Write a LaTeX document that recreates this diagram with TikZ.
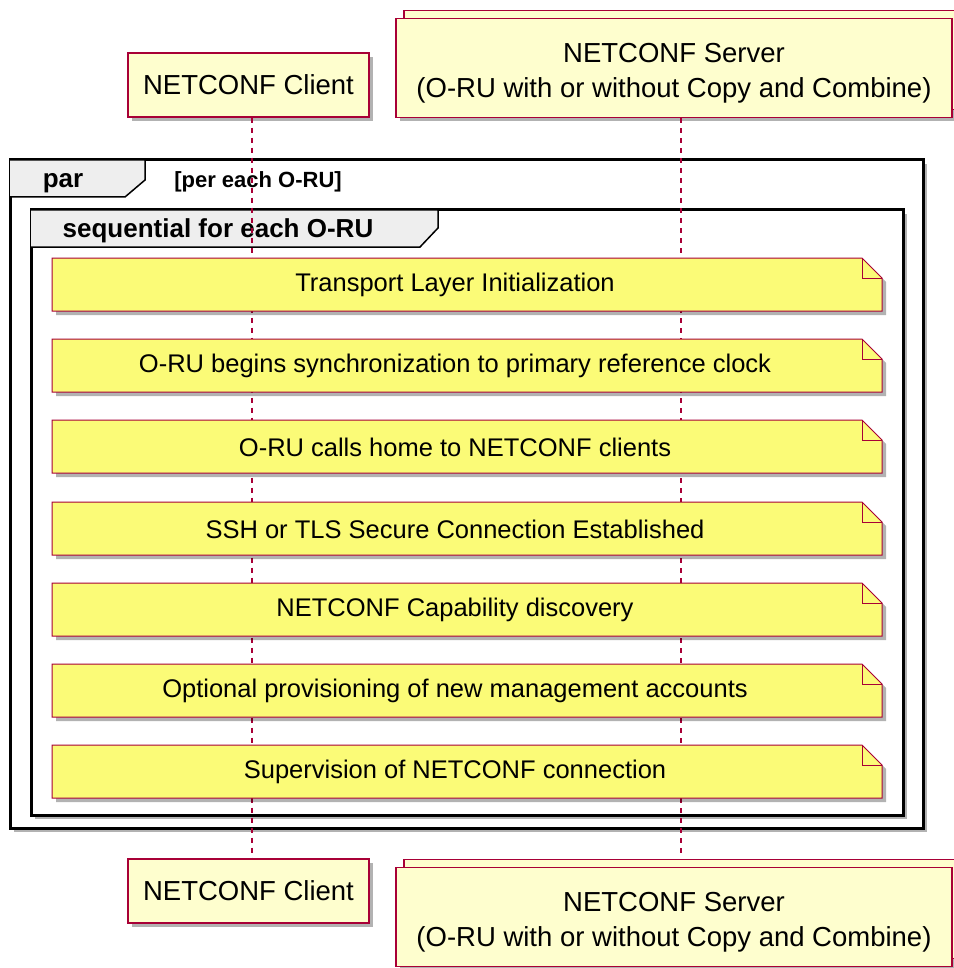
\documentclass[tikz,border=0pt]{standalone}
\usepackage{fontspec}
\setmainfont{Liberation Sans}
\usetikzlibrary{positioning,shadows}
\definecolor{umlred}{HTML}{A80036}
\definecolor{partfill}{HTML}{FEFECE}
\definecolor{notefill}{HTML}{FBFB77}
\definecolor{tabfill}{HTML}{EEEEEE}
\tikzset{
  umlshadow/.style={drop shadow={shadow xshift=4pt,shadow yshift=-4pt,fill=black,opacity=0.3}},
  partbox/.style={draw=umlred,fill=partfill,line width=1.4pt,umlshadow,
    inner sep=0pt,align=center,font=\fontsize{27.5}{35}\selectfont},
  stackbox/.style={partbox,copy shadow={shadow xshift=8pt,shadow yshift=8pt,
    fill=partfill,draw=umlred,line width=1.4pt}},
  lifeline/.style={draw=umlred,line width=1.2pt,dash pattern=on 5pt off 5pt},
  frameline/.style={draw=black,line width=3pt,fill=white,umlshadow},
  tabline/.style={draw=black,line width=1.5pt,fill=tabfill},
  noteline/.style={draw=umlred,fill=notefill,line width=1pt,umlshadow},
  notetext/.style={inner sep=0pt,font=\fontsize{25.5}{30}\selectfont},
}
\begin{document}
\begin{tikzpicture}[x=1pt,y=-1pt]
  \useasboundingbox (0,0) rectangle (953,968);
  % frames
  \draw[frameline] (10,160) rectangle (923,828);
  \draw[tabline] (10,160) -- (145,160) -- (145,180) -- (125,197) -- (10,197);
  \node[font=\bfseries\fontsize{26}{30}\selectfont] (partag) at (63,183) {par};
  \node[font=\bfseries\fontsize{22}{26}\selectfont] (parcond) at (258,182) {[per each O-RU]};
  \draw[frameline] (31,210) rectangle (903,815);
  \draw[tabline] (31,210) -- (438,210) -- (438,228) -- (420,247) -- (31,247);
  \node[font=\bfseries\fontsize{26}{30}\selectfont] (seqtag) at (218,231) {sequential for each O-RU};
  % participants
  \node[partbox,minimum width=241,minimum height=64] (cltop) at (248.5,85) {NETCONF Client};
  \node[stackbox,minimum width=556,minimum height=99] (srvtop) at (674,68)
    {\rule{0pt}{30pt}NETCONF Server\\(O-RU with or without Copy and Combine)};
  \node[partbox,minimum width=241,minimum height=64] (clbot) at (248.5,891) {NETCONF Client};
  \node[stackbox,minimum width=556,minimum height=99] (srvbot) at (674,917)
    {\rule{0pt}{30pt}NETCONF Server\\(O-RU with or without Copy and Combine)};
  % lifelines
  \draw[lifeline] ([xshift=3.5pt]cltop.south) -- ([xshift=3.5pt]clbot.north);
  \draw[lifeline] ([xshift=7pt]srvtop.south) -- ([xshift=7pt,yshift=9pt]srvbot.north);
  % notes
  \foreach \yy/\txt [count=\i] in {258/Transport Layer Initialization,
      339/O-RU begins synchronization to primary reference clock,
      420/O-RU calls home to NETCONF clients,
      502/SSH or TLS Secure Connection Established,
      583/NETCONF Capability discovery,
      664/Optional provisioning of new management accounts,
      745/Supervision of NETCONF connection} {
    \draw[noteline] (52,\yy) -- (862,\yy) -- (882,\yy+20) -- (882,\yy+53) -- (52,\yy+53) -- cycle;
    \draw[umlred,line width=1pt] (862,\yy) |- (882,\yy+20);
    \node[notetext] (note\i) at (455,\yy+27) {\txt};
  }
\end{tikzpicture}
\end{document}
